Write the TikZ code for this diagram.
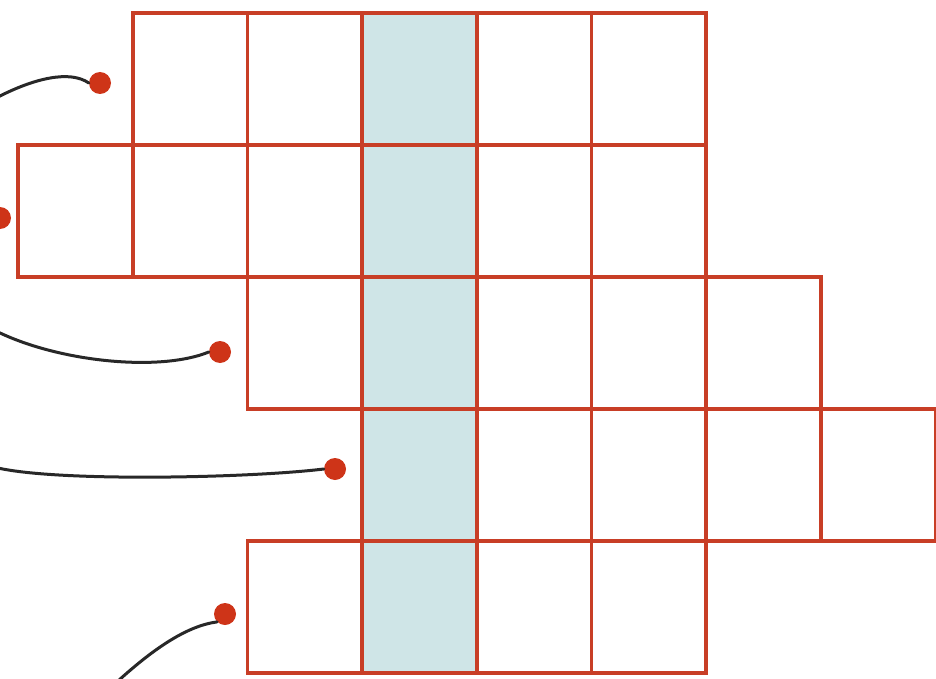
\documentclass[tikz,border=0pt]{standalone}
\begin{document}
\begin{tikzpicture}[x=1pt,y=-1pt,
  cell/.style={draw=gridred, line width=3.6pt, minimum width=114.7pt, minimum height=132pt, inner sep=0pt, outer sep=0pt},
  bluecell/.style={cell, fill=cellblue},
  pin/.style={circle, fill=dotred, inner sep=0pt, minimum size=22pt},
  wire/.style={line width=3pt, draw=wiregray, line cap=round}]
\definecolor{gridred}{RGB}{200,62,38}
\definecolor{dotred}{RGB}{206,52,24}
\definecolor{cellblue}{RGB}{207,229,231}
\definecolor{wiregray}{RGB}{40,40,40}
\useasboundingbox (0,0) rectangle (936,679);
% rows: start column, end column
\foreach \r/\a/\b in {0/1/5, 1/0/5, 2/2/6, 3/3/7, 4/2/5}{
  \foreach \c in {\a,...,\b}{
    \ifnum\c=3
      \node[bluecell] (c-\r-\c) at ({18+114.7*\c+57.35},{13+132*\r+66}) {};
    \else
      \node[cell] (c-\r-\c) at ({18+114.7*\c+57.35},{13+132*\r+66}) {};
    \fi
  }
}
% redraw blue column borders on top
\foreach \r in {0,...,4}{
  \draw[gridred, line width=3.6pt] (c-\r-3.north west) rectangle (c-\r-3.south east);
}
% pins
\node[pin] (p1) at (100,83) {};
\node[pin] (p2) at (0,218) {};
\node[pin] (p3) at (220,352) {};
\node[pin] (p4) at (335,469) {};
\node[pin] (p5) at (225,614) {};
% free ends
\coordinate (w1) at (-2,97);
\coordinate (w3) at (-2,332);
\coordinate (w4) at (-2,468);
\coordinate (w5) at (118,681);
\draw[wire] (w1) .. controls (35,78) and (70,70) .. (p1.west);
\draw[wire] (w3) .. controls (60,362) and (160,372) .. (p3.west);
\draw[wire] (w4) .. controls (60,482) and (250,478) .. (p4.west);
\draw[wire] (w5) .. controls (150,652) and (185,626) .. (p5.south west);
\end{tikzpicture}
\end{document}
